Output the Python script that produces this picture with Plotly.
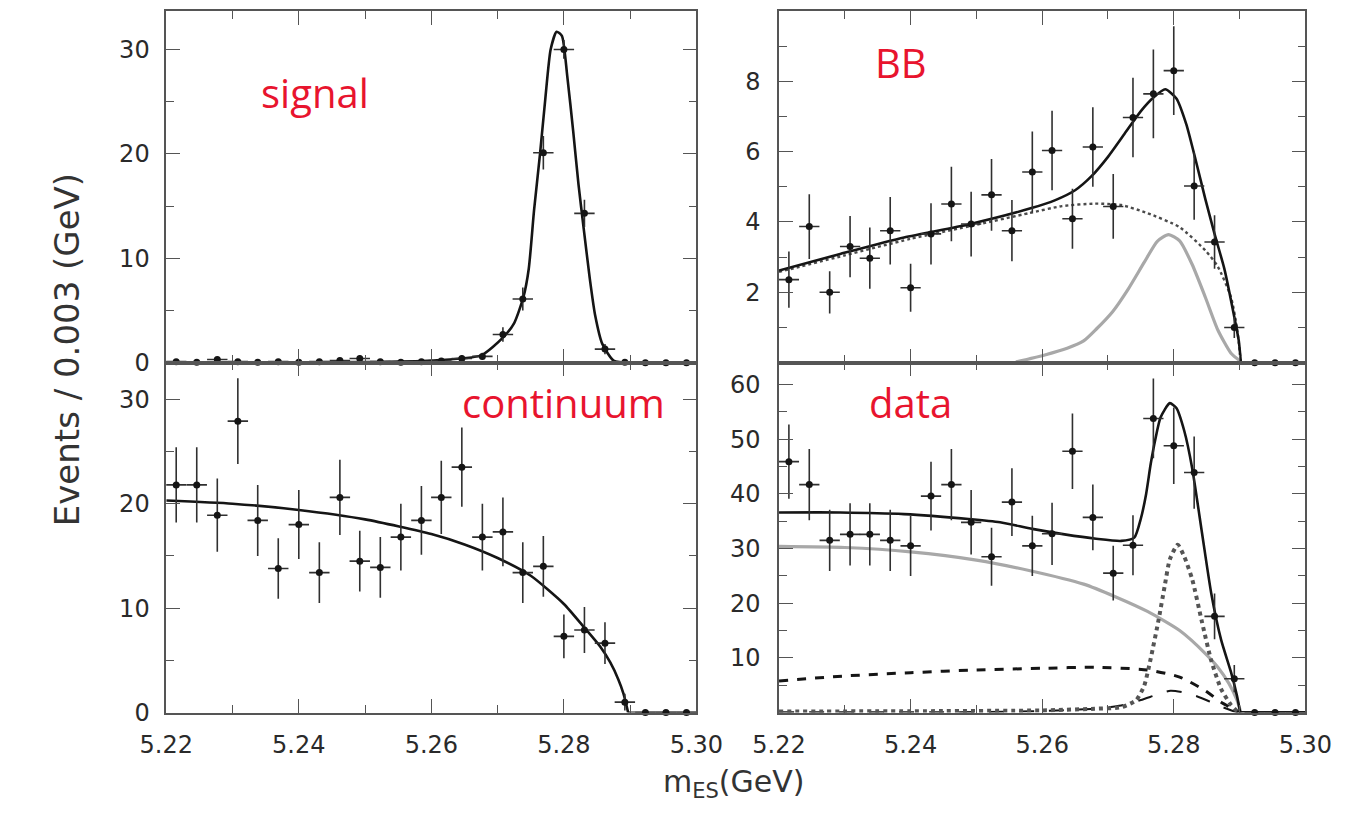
import plotly.graph_objects as go

# ---------------- data ----------------
bin_centers = [5.2215, 5.2246, 5.2277, 5.2308, 5.2338, 5.2369, 5.2400, 5.2431,
               5.2462, 5.2492, 5.2523, 5.2554, 5.2585, 5.2615, 5.2646, 5.2677,
               5.2708, 5.2738, 5.2769, 5.2800, 5.2831, 5.2862, 5.2892, 5.2923,
               5.2954, 5.2985]
half_bin = 0.00154

signal_y = [0.1, 0.05, 0.3, 0.1, 0.05, 0.1, 0.05, 0.1, 0.2, 0.4, 0.1, 0.05, 0.1,
            0.15, 0.4, 0.6, 2.7, 6.1, 20.1, 30.0, 14.3, 1.3, 0.05, 0, 0, 0]
signal_err = [0.2, 0.15, 0.25, 0.2, 0.15, 0.2, 0.15, 0.2, 0.2, 0.3, 0.2, 0.15, 0.2,
              0.2, 0.3, 0.35, 0.7, 1.1, 1.6, 0.9, 1.3, 0.5, 0.1, 0, 0, 0]

continuum_y = [21.8, 21.8, 18.9, 27.9, 18.4, 13.8, 18.0, 13.4, 20.6, 14.5, 13.9,
               16.8, 18.4, 20.6, 23.5, 16.8, 17.3, 13.4, 14.0, 7.3, 7.9, 6.65,
               1.0, 0, 0, 0]
continuum_err = [3.6, 3.6, 3.5, 4.1, 3.4, 2.9, 3.3, 2.9, 3.6, 2.9, 2.9, 3.2, 3.3,
                 3.5, 3.8, 3.2, 3.3, 2.9, 2.9, 2.1, 2.2, 2.0, 0.8, 0, 0, 0]

bb_y = [2.36, 3.87, 2.0, 3.30, 2.97, 3.75, 2.13, 3.66, 4.51, 3.94, 4.77, 3.75,
        5.42, 6.03, 4.09, 6.13, 4.44, 6.97, 7.64, 8.30, 5.02, 3.43, 1.0, 0, 0, 0]
bb_err = [0.8, 0.92, 0.6, 0.87, 0.87, 0.96, 0.68, 0.87, 1.06, 0.92, 1.02, 0.87,
          1.15, 1.13, 0.85, 1.13, 0.92, 1.13, 1.26, 1.26, 0.96, 0.76, 0.3, 0, 0, 0]

data_y = [45.9, 41.7, 31.5, 32.6, 32.6, 31.5, 30.5, 39.6, 41.7, 34.8, 28.5, 38.5,
          30.5, 32.7, 47.8, 35.7, 25.5, 30.6, 53.8, 48.8, 43.9, 17.6, 6.2, 0, 0, 0]
data_err = [6.8, 6.5, 5.6, 5.7, 5.7, 5.6, 5.5, 6.3, 6.5, 5.9, 5.3, 6.2, 5.5, 5.7,
            6.9, 6.0, 5.0, 5.5, 7.3, 7.0, 6.6, 4.2, 2.5, 0, 0, 0]

# fit curves
sig_fit_x = [5.2200, 5.2500, 5.2600, 5.2675, 5.2708, 5.2725, 5.2739, 5.2747, 5.2755,
             5.2764, 5.2772, 5.2780, 5.2789, 5.2797, 5.2805, 5.2814, 5.2822, 5.2830,
             5.2839, 5.2847, 5.2858, 5.2875, 5.2900]
sig_fit_y = [0.0, 0.05, 0.2, 0.7, 2.4, 3.8, 6.3, 9.0, 14.6, 20.0, 25.3, 30.0, 31.7,
             31.3, 27.5, 22.2, 17.1, 12.8, 8.1, 4.6, 1.8, 0.2, 0.0]

cont_fit_x = [5.2200, 5.2300, 5.2400, 5.2500, 5.2600, 5.2650, 5.2700, 5.2750, 5.2800,
              5.2830, 5.2855, 5.2870, 5.2882, 5.2890, 5.2897]
cont_fit_y = [20.3, 20.0, 19.4, 18.5, 17.1, 16.1, 14.8, 13.1, 10.4, 8.2, 6.3, 4.8,
              3.2, 1.8, 0.0]

bb_fit_x = [5.2200, 5.2293, 5.2390, 5.2488, 5.2585, 5.2620, 5.2650, 5.2675, 5.2700,
            5.2725, 5.2750, 5.2770, 5.2787, 5.2804, 5.2819, 5.2833, 5.2848, 5.2862,
            5.2877, 5.2892, 5.2899, 5.2902]
bb_fit_y = [2.62, 3.09, 3.56, 3.93, 4.40, 4.62, 4.90, 5.30, 5.85, 6.50, 7.15, 7.55,
            7.77, 7.51, 6.78, 5.78, 4.65, 3.66, 2.66, 1.3, 0.6, 0.0]
bb_comb_x = [5.2200, 5.2300, 5.2400, 5.2500, 5.2580, 5.2630, 5.2680, 5.2720, 5.2760,
             5.2809, 5.2848, 5.2867, 5.2887, 5.2896, 5.2902]
bb_comb_y = [2.58, 3.05, 3.52, 3.92, 4.25, 4.45, 4.52, 4.48, 4.25, 3.85, 3.19, 2.73,
             1.86, 1.0, 0.0]
bb_peak_x = [5.2560, 5.2604, 5.2638, 5.2663, 5.2682, 5.2707, 5.2731, 5.2755, 5.2775,
             5.2792, 5.2809, 5.2828, 5.2848, 5.2867, 5.2887, 5.2901]
bb_peak_y = [0.02, 0.22, 0.41, 0.62, 0.95, 1.45, 2.10, 2.85, 3.45, 3.64, 3.46, 2.79,
             1.86, 0.93, 0.27, 0.05]

data_fit_x = [5.2200, 5.2293, 5.2390, 5.2488, 5.2536, 5.2585, 5.2634, 5.2682, 5.2720,
              5.2740, 5.2750, 5.2758, 5.2765, 5.2772, 5.2780, 5.2794, 5.2804, 5.2816,
              5.2828, 5.2843, 5.2857, 5.2872, 5.2887, 5.2896, 5.2901]
data_fit_y = [36.6, 36.6, 36.3, 35.4, 34.8, 33.6, 32.6, 31.8, 31.4, 32.0, 35.5, 40.0,
              45.5, 50.0, 54.0, 56.6, 55.7, 51.5, 44.7, 32.8, 21.8, 13.3, 7.4, 3.1, 0.0]
data_cont_x = [5.2200, 5.2300, 5.2400, 5.2500, 5.2580, 5.2663, 5.2711, 5.2760, 5.2809,
               5.2848, 5.2867, 5.2884, 5.2896, 5.2902]
data_cont_y = [30.4, 30.2, 29.4, 27.9, 26.0, 23.5, 21.2, 18.5, 15.0, 10.8, 8.3, 5.3,
               2.3, 0.0]
data_comb_x = [5.2200, 5.2300, 5.2400, 5.2500, 5.2600, 5.2680, 5.2760, 5.2809, 5.2848,
               5.2872, 5.2891, 5.2900]
data_comb_y = [5.8, 6.7, 7.3, 7.8, 8.1, 8.3, 7.8, 6.5, 4.0, 1.9, 0.6, 0.0]
data_sig_x = [5.2200, 5.2400, 5.2600, 5.2680, 5.2721, 5.2743, 5.2755, 5.2765, 5.2777,
              5.2786, 5.2794, 5.2806, 5.2816, 5.2828, 5.2843, 5.2857, 5.2872, 5.2887,
              5.2896, 5.2900]
data_sig_y = [0.2, 0.25, 0.4, 0.7, 1.0, 2.3, 4.9, 9.9, 17.0, 23.0, 28.0, 30.7, 28.5,
              24.4, 16.5, 9.5, 4.3, 1.4, 0.3, 0.0]
data_bbpk_x = [5.2200, 5.2500, 5.2600, 5.2680, 5.2720, 5.2750, 5.2775, 5.2795, 5.2815,
               5.2835, 5.2855, 5.2870, 5.2890, 5.2900]
data_bbpk_y = [0.05, 0.1, 0.3, 0.7, 1.3, 2.3, 3.3, 4.0, 3.7, 3.0, 2.0, 1.2, 0.3, 0.0]

zero_x = [5.2900, 5.3000]
zero_y = [0.0, 0.0]

panel_labels = ["signal", "BB", "continuum", "data"]
x_tick_vals = [5.22, 5.24, 5.26, 5.28, 5.30]
x_tick_text = ["5.22", "5.24", "5.26", "5.28", "5.30"]

# ---------------- figure ----------------
W, H = 1365, 818
BLACK = "#151515"
GRAY = "#a8a8a8"
TICKFONT = dict(family="DejaVu Sans", size=24, color="#2a2a2a")

fig = go.Figure()


def add_points(y, err, xa, ya):
    fig.add_trace(go.Scatter(
        x=bin_centers, y=y, mode="markers", xaxis=xa, yaxis=ya,
        marker=dict(color=BLACK, size=7),
        error_y=dict(type="data", array=err, visible=True, color="#303030",
                     thickness=1.6, width=0),
        error_x=dict(type="constant", value=half_bin, visible=True,
                     color="#303030", thickness=1.6, width=0),
        cliponaxis=False, showlegend=False))


def add_curve(x, y, xa, ya, color=BLACK, width=2.6, dash="solid", shape="spline"):
    fig.add_trace(go.Scatter(
        x=x, y=y, mode="lines", xaxis=xa, yaxis=ya,
        line=dict(color=color, width=width, dash=dash, shape=shape,
                  smoothing=0.6 if shape == "spline" else None),
        showlegend=False, hoverinfo="skip"))


# top-left: signal
add_curve(sig_fit_x, sig_fit_y, "x", "y")
add_curve(zero_x, zero_y, "x", "y", shape="linear")
add_points(signal_y, signal_err, "x", "y")

# top-right: BB
add_curve(bb_peak_x, bb_peak_y, "x2", "y2", color=GRAY, width=3.2)
add_curve(bb_comb_x, bb_comb_y, "x2", "y2", color="#4a4a4a", width=2.4, dash="dot")
add_curve(bb_fit_x, bb_fit_y, "x2", "y2")
add_curve(zero_x, zero_y, "x2", "y2", width=3, shape="linear")
add_points(bb_y, bb_err, "x2", "y2")

# bottom-left: continuum
add_curve(cont_fit_x, cont_fit_y, "x3", "y3")
add_curve([5.2897, 5.3000], zero_y, "x3", "y3", width=2, shape="linear")
add_points(continuum_y, continuum_err, "x3", "y3")

# bottom-right: data
add_curve(data_cont_x, data_cont_y, "x4", "y4", color=GRAY, width=3.2)
add_curve(data_comb_x, data_comb_y, "x4", "y4", color=BLACK, width=3, dash="dash")
add_curve(data_bbpk_x, data_bbpk_y, "x4", "y4", color=BLACK, width=2, dash="longdash")
add_curve(data_sig_x, data_sig_y, "x4", "y4", color="#555555", width=4, dash="dot")
add_curve(data_fit_x, data_fit_y, "x4", "y4")
add_curve(zero_x, zero_y, "x4", "y4", width=3, shape="linear")
add_points(data_y, data_err, "x4", "y4")

# axis geometry (pixels -> paper fractions)
xl = [145 / W, 697 / W]
xr = [783 / W, 1331 / W]
yt = [1 - 369 / H, 1 - 11 / H]
yb = [1 - 725 / H, 1 - 369 / H]

frame = dict(showline=True, linecolor="#555555", linewidth=1.6, mirror="ticks",
             ticks="inside", ticklen=14, tickwidth=1.3, tickcolor="#555555",
             showgrid=False, zeroline=False, tickfont=TICKFONT)


def xaxis(domain, anchor, labels):
    d = dict(frame)
    d.update(domain=domain, anchor=anchor, range=[5.22, 5.30],
             tickmode="array", tickvals=x_tick_vals, ticktext=x_tick_text,
             showticklabels=labels, ticklabelstandoff=10,
             minor=dict(ticks="inside", ticklen=8, tickcolor="#555555",
                        tickwidth=1.2, tickmode="linear", tick0=5.21, dtick=0.02))
    return d


def yaxis(domain, anchor, rng, vals, minor_dt, standoff):
    d = dict(frame)
    d.update(domain=domain, anchor=anchor, range=rng, tickmode="array",
             tickvals=vals, ticktext=[str(v) for v in vals],
             ticklabelstandoff=standoff,
             minor=dict(ticks="inside", ticklen=8, tickcolor="#555555",
                        tickwidth=1.2, tickmode="linear", tick0=0, dtick=minor_dt))
    return d


fig.update_layout(
    width=W, height=H, margin=dict(l=0, r=0, t=0, b=0),
    paper_bgcolor="white", plot_bgcolor="white",
    xaxis=xaxis(xl, "y", False),
    xaxis2=xaxis(xr, "y2", False),
    xaxis3=xaxis(xl, "y3", True),
    xaxis4=xaxis(xr, "y4", True),
    yaxis=yaxis(yt, "x", [0, 33.7], [0, 10, 20, 30], 5, 10),
    yaxis2=yaxis(yt, "x2", [0, 10], [2, 4, 6, 8], 1, 12),
    yaxis3=yaxis(yb, "x3", [0, 33.5], [0, 10, 20, 30], 5, 10),
    yaxis4=yaxis(yb, "x4", [0, 64], [10, 20, 30, 40, 50, 60], 5, 12),
)

RED = "#e8142e"
label_pos = [(300, 94), (910, 64), (559, 410), (920, 410)]
for txt, (px, py) in zip(panel_labels, label_pos):
    fig.add_annotation(text=txt, x=px / W, y=1 - py / H, xref="paper", yref="paper",
                       showarrow=False, xanchor="center", yanchor="middle",
                       font=dict(family="Open Sans", size=40, color=RED))

fig.add_annotation(text="Events / 0.003 (GeV)", x=42 / W, y=1 - 356 / H,
                   xref="paper", yref="paper", showarrow=False, textangle=-90,
                   xanchor="center", yanchor="middle",
                   font=dict(family="DejaVu Sans", size=34, color="#333333"))
fig.add_annotation(text="m<sub>ES</sub>(GeV)", x=736 / W, y=1 - 797 / H,
                   xref="paper", yref="paper", showarrow=False,
                   xanchor="center", yanchor="middle",
                   font=dict(family="DejaVu Sans", size=30, color="#333333"))

fig.write_html("out.html")
